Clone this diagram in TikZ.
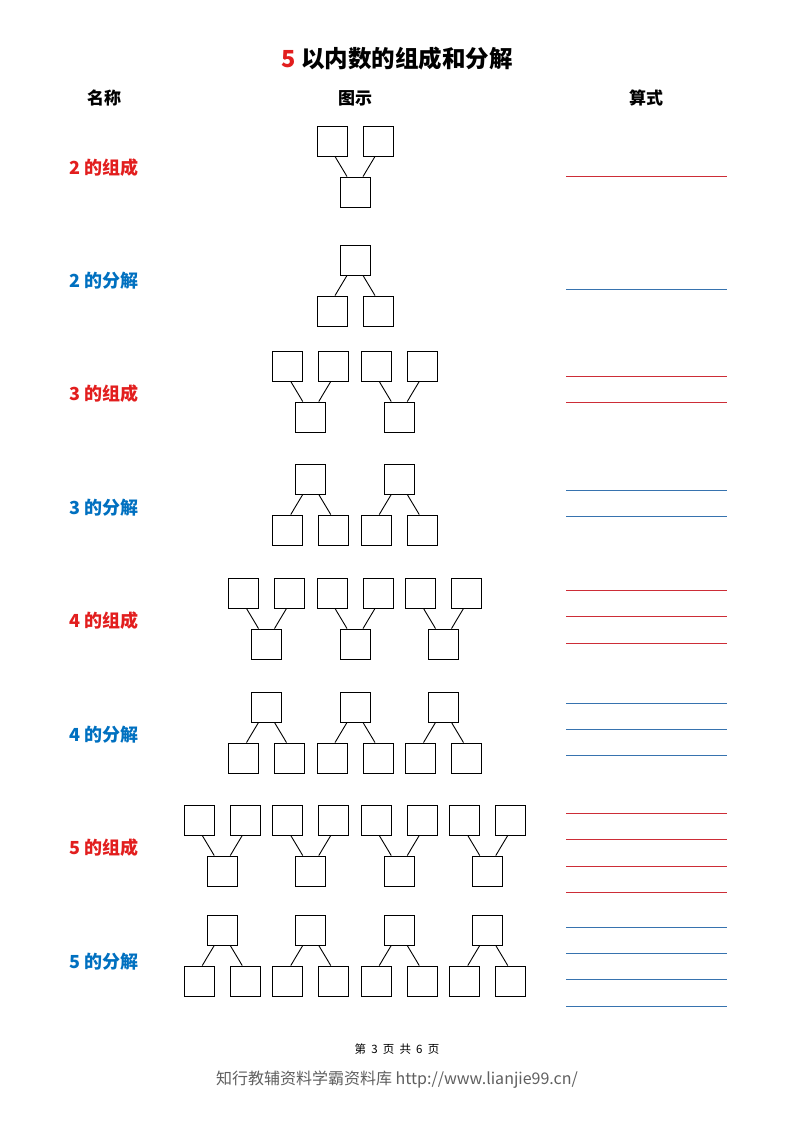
\documentclass[tikz,border=0pt]{standalone}
\usepackage{fontspec}
\setmainfont{Liberation Sans}
\newfontfamily\cjk{Noto Sans CJK SC}
\usetikzlibrary{calc,positioning}
\definecolor{zred}{RGB}{226,30,30}
\definecolor{zblue}{RGB}{0,112,192}
\definecolor{rulered}{RGB}{205,45,55}
\definecolor{ruleblue}{RGB}{55,115,175}
\definecolor{footgray}{RGB}{95,95,95}
\tikzset{
    box/.style = {draw, rectangle, minimum size=30pt, inner sep=0pt, line width=0.9pt},
    link/.style = {draw, line width=0.9pt},
    titletext/.style = {font=\cjk\bfseries\fontsize{23.5}{25}\selectfont},
    head/.style = {font=\cjk\bfseries\fontsize{17}{19}\selectfont},
    rowlabel/.style = {font=\cjk\bfseries\fontsize{18}{20}\selectfont},
    redrule/.style = {draw=rulered, line width=0.8pt},
    bluerule/.style = {draw=ruleblue, line width=0.8pt}
}

\begin{document}
\begin{tikzpicture}[x=1pt,y=-1pt]
    \useasboundingbox (0,0) rectangle (793,1122);
    \node[titletext] (title) at (397,59) {\textcolor{zred}{5} 以内数的组成和分解};
    \node[head] (hname) at (104,98) {名称};
    \node[head] (hpic) at (355,98) {图示};
    \node[head] (hcalc) at (646,98) {算式};
    % composition rows: two boxes join into one
    \foreach \n/\ty/\ly/\fy in {2/126/168/176, 3/351/394/376, 4/578/621/590, 5/805/848/813}{
        \pgfmathtruncatemacro\k{\n-1}
        \node[rowlabel, text=zred] (lc\n) at (104,\ly) {\n\ 的组成};
        \foreach \g [evaluate=\g as \cx using 355+(\g-\n/2)*88.5] in {1,...,\k}{
            \node[box] (c\n-\g-a) at (\cx-23,\ty+15) {};
            \node[box] (c\n-\g-b) at (\cx+23,\ty+15) {};
            \node[box] (c\n-\g-s) at (\cx,\ty+66) {};
            \draw[link] ($(c\n-\g-a.south)+(3,0)$) -- ($(c\n-\g-s.north)+(-8,0)$);
            \draw[link] ($(c\n-\g-b.south)+(-3,0)$) -- ($(c\n-\g-s.north)+(8,0)$);
        }
        \foreach \j [evaluate=\j as \yy using \fy+(\j-1)*26.6] in {1,...,\k}{
            \draw[redrule] (566,\yy) -- (727,\yy);
        }
    }
    % decomposition rows: one box splits into two
    \foreach \n/\ty/\ly/\fy in {2/245/281/289, 3/464/508/490, 4/692/735/703, 5/915/962/927}{
        \pgfmathtruncatemacro\k{\n-1}
        \node[rowlabel, text=zblue] (ld\n) at (104,\ly) {\n\ 的分解};
        \foreach \g [evaluate=\g as \cx using 355+(\g-\n/2)*88.5] in {1,...,\k}{
            \node[box] (d\n-\g-w) at (\cx,\ty+15) {};
            \node[box] (d\n-\g-a) at (\cx-23,\ty+66) {};
            \node[box] (d\n-\g-b) at (\cx+23,\ty+66) {};
            \draw[link] ($(d\n-\g-w.south)+(-8,0)$) -- ($(d\n-\g-a.north)+(3,0)$);
            \draw[link] ($(d\n-\g-w.south)+(8,0)$) -- ($(d\n-\g-b.north)+(-3,0)$);
        }
        \foreach \j [evaluate=\j as \yy using \fy+(\j-1)*26.4] in {1,...,\k}{
            \draw[bluerule] (566,\yy) -- (727,\yy);
        }
    }
    \node[font=\cjk\fontsize{11.5}{12}\selectfont] (page) at (397,1049) {第\ \ 3\ \ 页\ \ 共\ \ 6\ \ 页};
    \node[font=\cjk\fontsize{16}{18}\selectfont, text=footgray] (site) at (397,1080) {知行教辅资料学霸资料库 http://www.lianjie99.cn/};
\end{tikzpicture}
\end{document}
